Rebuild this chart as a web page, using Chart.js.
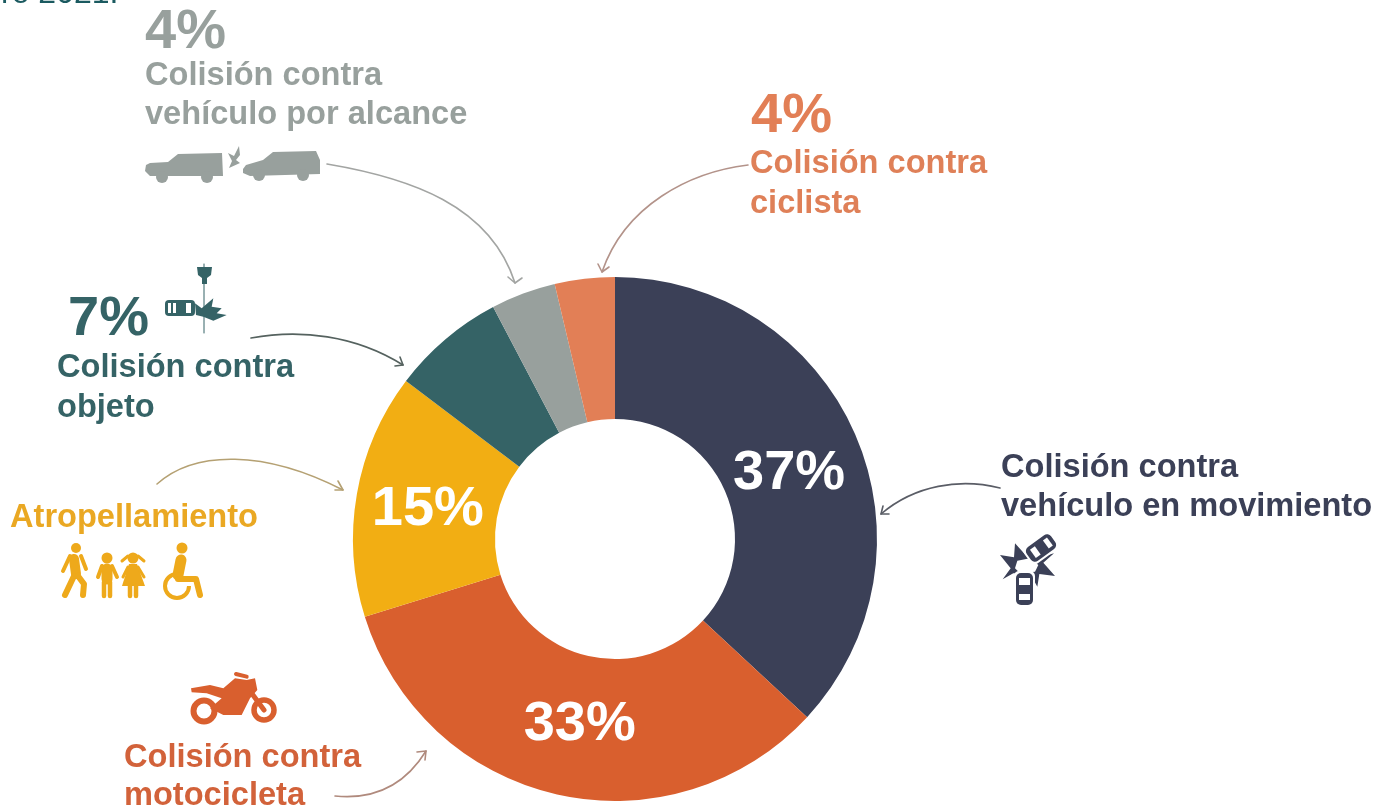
<!DOCTYPE html>
<html lang="es">
<head>
<meta charset="utf-8">
<title>Colisiones</title>
<style>html,body{margin:0;padding:0;background:#fff;overflow:hidden}canvas{display:block}</style>
<script src="https://cdn.jsdelivr.net/npm/chart.js@4/dist/chart.umd.min.js"></script>
</head>
<body>
<canvas id="c" width="1376" height="811"></canvas>
<script>
const categories = ["Colisión contra vehículo en movimiento","Colisión contra motocicleta","Atropellamiento","Colisión contra objeto","Colisión contra vehículo por alcance","Colisión contra ciclista"];
const values = [36.9, 33.3, 15.1, 7.0, 4.0, 3.7];
const percentLabels = ["37%","33%","15%","7%","4%","4%"];
const sliceColors = ["#3b4057","#d95f2e","#f2ae13","#356366","#98a09d","#e27f56"];

const FONT = '"Liberation Sans", Arial, sans-serif';
const inSliceOffset = {0:[-1,26],1:[7,15],2:[1,19]};

const outerTexts = [
  {t:"ro 2021.", x:1, y:3, size:32, weight:"400", color:"#1b5a60"},
  {t:percentLabels[4], x:145, y:48, size:56, color:sliceColors[4]},
  {t:"Colisión contra", x:145, y:85, color:"#98a09d"},
  {t:"vehículo por alcance", x:145, y:124, color:"#98a09d"},
  {t:percentLabels[5], x:751, y:132, size:56, color:sliceColors[5]},
  {t:"Colisión contra", x:750, y:173, color:"#df8058"},
  {t:"ciclista", x:750, y:213, color:"#df8058"},
  {t:percentLabels[3], x:68, y:335, size:56, color:sliceColors[3]},
  {t:"Colisión contra", x:57, y:377, color:"#356366"},
  {t:"objeto", x:57, y:417, color:"#356366"},
  {t:"Atropellamiento", x:10, y:527, color:"#eaa823"},
  {t:"Colisión contra", x:1001, y:477, color:sliceColors[0]},
  {t:"vehículo en movimiento", x:1001, y:516, color:sliceColors[0]},
  {t:"Colisión contra", x:124, y:767, color:"#d2623a"},
  {t:"motocicleta", x:124, y:805, color:"#d2623a"}
];

const arrows = [
  {c:[327,164,410,178,490,205,515,283], head:[[508,277],[522,278]], color:"#a3a5a3"},
  {c:[748,165,690,172,625,205,602,272], head:[[598,264],[609,267]], color:"#b3938a"},
  {c:[1000,488,960,478,915,485,881,514], head:[[883,506],[889,514]], color:"#5a5d66"},
  {c:[251,338,300,329,355,335,403,365], head:[[400,357],[395,366]], color:"#55625f"},
  {c:[157,484,195,450,265,450,343,490], head:[[338,481],[335,490]], color:"#b5a173"},
  {c:[335,796,375,800,405,785,426,751], head:[[417,752],[425,760]], color:"#b08a7d"}
];

function poly(ctx, pts, color){
  ctx.fillStyle = color; ctx.beginPath();
  pts.forEach((p,i)=> i ? ctx.lineTo(p[0],p[1]) : ctx.moveTo(p[0],p[1]));
  ctx.closePath(); ctx.fill();
}
function dot(ctx, x, y, r, color){ ctx.fillStyle=color; ctx.beginPath(); ctx.arc(x,y,r,0,Math.PI*2); ctx.fill(); }
function seg(ctx, pts, w, color){
  ctx.strokeStyle=color; ctx.lineWidth=w; ctx.lineCap="round"; ctx.lineJoin="round"; ctx.beginPath();
  pts.forEach((p,i)=> i ? ctx.lineTo(p[0],p[1]) : ctx.moveTo(p[0],p[1])); ctx.stroke();
}
function ring(ctx, x, y, r, w, color, a0=0, a1=Math.PI*2){ ctx.strokeStyle=color; ctx.lineWidth=w; ctx.lineCap="butt"; ctx.beginPath(); ctx.arc(x,y,r,a0,a1); ctx.stroke(); }

function iconCars(ctx){
  const g="#98a09d";
  poly(ctx,[[146,165],[150,163],[168,162],[178,154],[222,153],[223,176],[150,176],[145,171]],g);
  dot(ctx,162,177,6,g); dot(ctx,207,177,6,g);
  poly(ctx,[[243,169],[246,165],[263,160],[273,152],[316,151],[320,160],[320,174],[250,176],[243,173]],g);
  dot(ctx,259,175,6,g); dot(ctx,303,175,6,g);
  poly(ctx,[[239,146],[240,155],[236,160],[240,163],[229,168],[232,161],[228,153],[234,156]],g);
}
function iconLamp(ctx){
  const t="#356366", z=p=>[p[0]/3,250+p[1]/3];
  seg(ctx,[[204,264],[204,333]],1,t);
  poly(ctx,[[197,267],[212,267],[211,275],[207,278],[207,284],[202,284],[202,278],[198,275]],t);
  ctx.fillStyle=t; ctx.beginPath(); ctx.roundRect(165,300,30,16,4); ctx.fill();
  ctx.fillStyle="#fff"; ctx.fillRect(168,303,3,10); ctx.fillRect(173,303,3,10); ctx.fillRect(186,303,5,10);
  poly(ctx,[[585,160],[605,175],[640,145],[635,170],[665,175],[650,190],[680,195],[640,212],[610,200],[588,195]].map(z),t);
}
function iconCrash(ctx){
  const d=sliceColors[0], z=p=>[980+p[0]/3,440+p[1]/3];
  poly(ctx,[[60,345],[102,352],[105,310],[132,340],[150,360],[222,340],[190,368],[225,408],[178,402],[172,440],[150,400],[100,400],[68,418],[92,385]].map(z),d);
  poly(ctx,[[112,362],[150,355],[175,375],[165,395],[120,400],[105,385]].map(z),"#fff");
  ctx.save(); ctx.translate(1041,548); ctx.rotate(Math.PI*0.3);
  ctx.fillStyle="#fff"; ctx.beginPath(); ctx.roundRect(-10.5,-17,21,34,5); ctx.fill();
  ctx.fillStyle=d; ctx.beginPath(); ctx.roundRect(-8.5,-15,17,30,5); ctx.fill();
  ctx.fillStyle="#fff"; ctx.fillRect(-5,-11,10,5); ctx.fillRect(-5,4,10,6);
  ctx.restore();
  ctx.fillStyle="#fff"; ctx.beginPath(); ctx.roundRect(1014,571,21,35,5); ctx.fill();
  ctx.fillStyle=d; ctx.beginPath(); ctx.roundRect(1016,573,17,32,5); ctx.fill();
  ctx.fillStyle="#fff"; ctx.fillRect(1019,578,11,7); ctx.fillRect(1019,594,11,6);
}
function iconPeople(ctx){
  const y="#eea91b";
  dot(ctx,76,548,5,y);
  seg(ctx,[[74,559],[76,574]],10,y);
  seg(ctx,[[70,556],[63,571]],4,y); seg(ctx,[[81,556],[86,569]],4,y);
  seg(ctx,[[74,576],[65,595]],6,y); seg(ctx,[[78,576],[84,584],[83,595]],6,y);
  dot(ctx,107,558,5.5,y);
  seg(ctx,[[107,569],[107,579]],11,y);
  seg(ctx,[[102,566],[98,577]],4,y); seg(ctx,[[112,566],[117,577]],4,y);
  seg(ctx,[[104,582],[104,596]],4.5,y); seg(ctx,[[110,582],[110,596]],4.5,y);
  dot(ctx,133,558,5.5,y);
  seg(ctx,[[128,556],[122,561]],3,y); seg(ctx,[[138,556],[144,561]],3,y);
  poly(ctx,[[129,564],[137,564],[145,586],[122,586]],y);
  seg(ctx,[[128,567],[123,577]],3,y); seg(ctx,[[138,567],[144,577]],3,y);
  seg(ctx,[[130,586],[130,596]],4.5,y); seg(ctx,[[136,586],[136,596]],4.5,y);
  dot(ctx,182,548,5.5,y);
  seg(ctx,[[181,560],[178,575]],11,y);
  seg(ctx,[[178,579],[196,579],[200,595]],6,y);
  ring(ctx,177,586,12,4,y,Math.PI*0.0,Math.PI*1.6);
}
function iconMoto(ctx){
  const o="#d95f2e", z=p=>[110+p[0]/3,660+p[1]/3];
  ring(ctx,204,711,10.5,6,o); ring(ctx,264,710,10,5.5,o);
  poly(ctx,[[243,85],[300,75],[340,85],[375,55],[410,60],[435,55],[442,90],[420,115],[395,165],[340,165],[300,145],[335,115],[290,100],[245,97]].map(z),o);
  seg(ctx,[[425,100],[462,150]].map(z),5,o);
  seg(ctx,[[378,42],[410,50]].map(z),4,o);
}

const annotationPlugin = {
  id:"annotations",
  afterDraw(chart){
    const ctx = chart.ctx; ctx.save();
    const arcs = chart.getDatasetMeta(0).data;
    ctx.textAlign="center"; ctx.textBaseline="alphabetic"; ctx.fillStyle="#fff";
    ctx.font = `bold 56px ${FONT}`;
    Object.keys(inSliceOffset).forEach(i=>{
      const p = arcs[i].getCenterPoint(), o = inSliceOffset[i];
      ctx.fillText(percentLabels[i], p.x+o[0], p.y+o[1]);
    });
    ctx.textAlign="left";
    outerTexts.forEach(l=>{
      ctx.font = `${l.weight||"bold"} ${l.size||32.6}px ${FONT}`;
      ctx.fillStyle = l.color; ctx.fillText(l.t,l.x,l.y);
    });
    arrows.forEach(a=>{
      const c=a.c;
      ctx.strokeStyle=a.color; ctx.lineWidth=1.6; ctx.lineCap="round"; ctx.lineJoin="round";
      ctx.beginPath(); ctx.moveTo(c[0],c[1]); ctx.bezierCurveTo(c[2],c[3],c[4],c[5],c[6],c[7]); ctx.stroke();
      ctx.beginPath(); ctx.moveTo(a.head[0][0],a.head[0][1]); ctx.lineTo(c[6],c[7]); ctx.lineTo(a.head[1][0],a.head[1][1]); ctx.stroke();
    });
    iconCars(ctx); iconLamp(ctx); iconCrash(ctx); iconPeople(ctx); iconMoto(ctx);
    ctx.restore();
  }
};

new Chart(document.getElementById("c"),{
  type:"doughnut",
  data:{labels:categories,datasets:[{data:values,backgroundColor:sliceColors,borderWidth:0}]},
  options:{
    responsive:false,animation:false,cutout:"45.8%",
    layout:{padding:{left:353,right:499,top:277,bottom:10}},
    plugins:{legend:{display:false},tooltip:{enabled:false}}
  },
  plugins:[annotationPlugin]
});
</script>
</body>
</html>
